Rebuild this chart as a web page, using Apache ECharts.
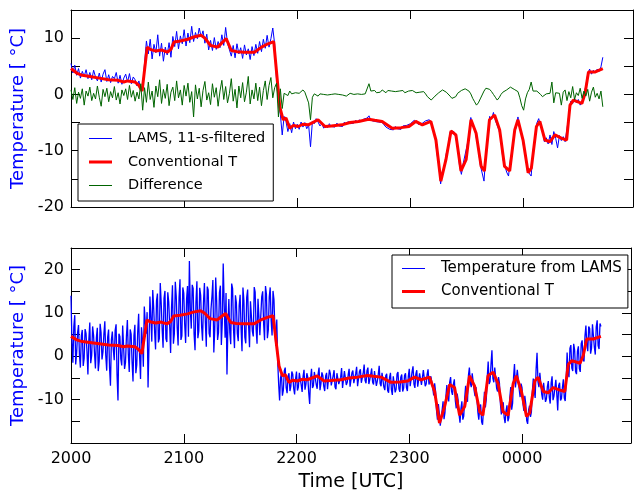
<!DOCTYPE html>
<html>
<head>
<meta charset="utf-8">
<script src="https://cdn.jsdelivr.net/npm/echarts@6/dist/echarts.min.js"></script>
<style>
  html, body { margin: 0; padding: 0; background: #fff; }
  #chart { width: 634px; height: 493px; }
</style>
</head>
<body>
<div id="chart"></div>
<script>
// x values are minutes after 2000 UTC; LAMS series are sampled once a minute
const sampleStep = 1
const hourTicks = ['2000', '2100', '2200', '2300', '0000']
const yTicksTop = [-20, -10, 0, 10]
const yTicksBottom = [-10, 0, 10, 20]

// conventional temperature (smooth, red)
const convTime = [0, 3, 6, 10, 15, 20, 25, 28, 30, 34, 36, 37.7, 40.4, 42, 45, 48, 51, 53, 54.6, 58,
  62, 65, 69, 71, 74, 77.8, 80.4, 82.3, 85, 88, 92, 97.3, 101, 104.5, 107.5, 110.7, 112.5, 114, 116, 118,
  120.4, 123, 125.8, 131, 134.7, 138, 143.6, 148, 152.5, 157.8, 161, 165, 170.3, 175, 179.2, 182.8, 186.3, 190.8, 193.5, 196.1,
  198.8, 201.5, 204.1, 206.8, 209.5, 212.1, 214.8, 217.5, 219.2, 221.9, 224.6, 227.3, 229.9, 232.6, 235.3, 237, 239.7, 242.4, 244.1, 246.8,
  248.6, 251.3, 254, 256.6, 260.2, 262.8, 264.6, 266.4, 270.9, 272.6, 274.4, 278, 282]
const convTemp = [4.6, 3.8, 3.4, 3.2, 2.9, 2.6, 2.5, 2.2, 2.4, 2.2, 1.6, 0.6, 8.4, 8.0, 7.7, 7.9, 7.5, 8.0, 9.3, 9.5,
  9.8, 10.2, 10.5, 10.0, 8.7, 8.4, 9.3, 9.9, 7.8, 7.6, 7.5, 7.5, 8.4, 9.0, 9.4, -2.2, -4.5, -4.2, -6.0, -5.5,
  -5.7, -5.3, -5.4, -4.5, -5.7, -5.6, -5.4, -5.0, -4.8, -4.4, -4.6, -4.8, -6.0, -5.9, -5.7, -4.8, -5.4, -4.8, -8.1, -15.4,
  -11.6, -6.5, -7.2, -13.6, -11.6, -4.5, -6.9, -12.8, -13.6, -4.5, -3.65, -6.3, -12.8, -13.6, -6.3, -4.5, -8.1, -13.9, -13.1, -5.7,
  -4.8, -8.1, -8.4, -7.2, -7.8, -8.1, -1.9, -1.0, -1.6, 0.2, 4.0, 4.0, 4.6]

// LAMS, 11-s-filtered (top panel, blue)
const lamsFiltered = [
  5.5, 3.8, 5.2, 3.4, 4.6, 2.9, 4.1, 3.2, 4.4, 2.8,
  3.9, 2.6, 4.3, 3.1, 2.4, 3.8, 2.2, 3.6, 4.4, 2.3,
  3.5, 2.1, 3.2, 2.8, 3.9, 2.0, 3.4, 1.8, 2.9, 3.6,
  2.2, 3.7, 1.9, 3.1, 2.6, 1.5, 2.4, 0.8, 1.2, 5.6,
  9.5, 7.2, 9.8, 6.3, 8.9, 7.4, 10.6, 6.8, 9.1, 5.9,
  8.4, 7.0, 9.2, 6.6, 10.3, 8.5, 11.2, 8.1, 10.4, 9.0,
  11.5, 8.6, 10.9, 9.2, 12.1, 9.4, 11.0, 9.9, 11.8, 10.2,
  11.3, 9.1, 10.7, 7.9, 9.6, 7.8, 10.1, 8.0, 9.4, 8.3,
  10.6, 8.7, 11.9, 9.1, 8.9, 6.8, 8.7, 6.5, 9.0, 7.2,
  8.3, 6.4, 8.8, 7.0, 8.1, 6.2, 8.5, 6.9, 8.9, 7.3,
  9.4, 7.6, 9.8, 8.2, 10.5, 8.4, 9.9, 11.8, 8.9, 2.5,
  -1.5, -3.5, -7.2, -3.9, -4.8, -6.6, -5.2, -6.8, -4.9, -6.1,
  -5.3, -6.2, -4.9, -5.8, -5.0, -6.1, -5.4, -9.3, -4.8, -5.2,
  -4.3, -4.9, -5.6, -5.2, -6.0, -5.5, -5.9, -5.2, -5.7, -5.4,
  -5.8, -5.1, -5.6, -5.3, -5.7, -4.9, -5.3, -4.8, -5.2, -4.9,
  -5.1, -4.6, -5.0, -4.5, -4.9, -4.4, -4.7, -4.2, -3.8, -4.6,
  -4.4, -4.8, -4.5, -4.9, -4.6, -5.0, -5.4, -5.8, -5.6, -6.2,
  -5.9, -6.3, -5.7, -6.1, -5.8, -6.2, -5.6, -5.9, -5.5, -5.8,
  -5.2, -4.9, -4.6, -4.8, -5.3, -5.6, -5.2, -5.0, -4.7, -4.9,
  -4.5, -5.1, -6.3, -7.2, -10.4, -12.5, -15.9, -13.6, -13.0, -10.5,
  -9.3, -6.7, -6.9, -6.6, -7.6, -9.2, -12.6, -14.2, -12.2, -12.4,
  -9.1, -7.3, -4.1, -5.5, -6.0, -7.9, -9.6, -12.5, -12.8, -15.4,
  -10.4, -7.9, -3.9, -4.4, -3.2, -4.6, -4.8, -6.4, -8.1, -11.5,
  -12.6, -13.8, -14.5, -11.6, -9.9, -6.8, -5.9, -4.0, -6.2, -7.0,
  -9.3, -10.6, -13.6, -13.3, -14.5, -10.0, -7.9, -5.1, -4.3, -5.6,
  -6.3, -8.4, -7.7, -8.8, -7.2, -8.9, -6.6, -7.8, -9.5, -7.3,
  -8.2, -7.5, -8.4, -6.1, -3.6, -1.2, -1.6, -0.7, -1.5, -0.9,
  -1.9, -1.1, -0.8, 1.5, 3.6, 4.5, 3.6, 4.3, 3.8, 4.5,
  4.1, 4.9, 6.6]

// difference LAMS - conventional (top panel, green)
const tempDiff = [
  0.8, -0.9, 1.2, -1.6, 0.4, -0.7, 1.0, -1.9, 0.6, -0.3,
  1.3, -1.1, 0.2, -0.8, 1.5, -0.5, -2.1, 0.9, -0.4, 1.1,
  -1.3, 0.5, -0.6, 1.4, -1.0, 0.3, -1.7, 0.8, -0.2, 1.0,
  -0.9, 1.6, -0.5, 0.7, -1.2, 0.4, -0.8, 1.9, -2.8, 1.2,
  -1.4, 2.2, -0.9, 0.6, -2.3, 1.5, -0.4, 2.6, -1.6, 0.9,
  -0.7, 1.8, -2.0, 0.4, 1.3, -1.1, 2.4, -0.6, 0.8, -1.9,
  1.6, -0.3, 2.0, -1.4, 0.5, -4.0, 1.7, -0.8, 1.1, -2.2,
  0.7, 2.3, -1.0, 0.3, -1.8, 1.9, -0.5, 1.2, -2.1, 0.6,
  2.5, -0.9, 1.4, -1.5, 0.2, 2.8, -1.2, 0.9, -2.4, 1.5,
  -0.6, 2.1, -1.3, 0.4, 3.2, -1.7, 0.8, -0.8, 2.0, -1.1,
  1.3, -2.0, 0.7, 2.4, -0.9, 1.6, 3.0, -0.6, 1.2, 2.0,
  -4.0, 1.0, -2.5, 0.2, 0.5, -0.2, 0.6, 0.1, 0.4, 0.3,
  0.6, 0.2, 0.5, 0.8, 0.4, 0.3, -1.5, -4.5, -0.5, 0.1,
  0.0, -0.3, 0.1, -0.2, 0.0, -0.3, -0.1, -0.4, 0.0, -0.2,
  0.1, -0.2, 0.0, 0.2, -0.1, 0.1, -0.3, 0.0, 0.2, -0.1,
  0.0, -0.2, 0.1, -0.1, 0.0, -0.3, 0.1, 0.3, 1.9, 0.6,
  0.4, 0.7, 0.3, 0.6, 0.4, 0.8, 0.5, 0.3, 0.7, 0.4,
  0.6, 0.3, 0.5, 0.2, 0.6, 0.4, 0.7, 0.3, 0.5, 0.6,
  0.4, 0.7, 0.5, 0.3, 0.6, 0.4, 0.2, 0.5, 0.1, -0.4,
  -0.6, -1.0, -0.7, -0.3, -0.1, 0.3, 0.6, 0.8, 0.7, 0.4,
  0.1, -0.3, -0.7, -1.0, -0.4, 0.2, 0.5, 0.7, 0.9, 1.0,
  1.0, 0.6, 0.1, -0.7, -1.3, -1.9, -1.5, -0.8, -0.1, 0.6,
  1.1, 1.3, 0.9, 0.5, 0.0, -0.5, -1.0, -0.6, 0.0, 0.4,
  0.5, 0.8, 1.1, 1.3, 1.3, 0.9, 0.6, 0.5, -0.6, -2.0,
  -2.8, -0.8, 0.3, 0.9, 2.2, 0.6, 0.4, 0.6, 0.3, 0.0,
  -0.4, -0.2, 0.1, 0.4, 0.2, 2.2, -1.5, 0.3, 0.5, 0.2,
  -1.9, 0.4, 0.8, -1.1, 0.5, -0.6, 1.4, -0.9, 0.3, -0.2,
  1.1, -0.7, 0.6, -0.3, 0.9, -1.2, 0.4, 1.3, -0.5, 0.2,
  -0.8, 0.6, -2.2]

// temperature from LAMS, unfiltered (bottom panel, blue), on the whole minutes
const lamsRaw = [
  14.0, -1.5, 9.5, 0.8, 7.2, -2.6, 6.1, -0.4, 5.3, -4.2,
  7.8, 0.2, 4.9, -2.8, 6.6, -1.1, 5.4, 1.0, 8.1, -3.3,
  6.2, -6.8, 5.7, -0.9, 7.4, -10.2, 4.6, -2.1, 6.9, -1.4,
  8.4, -3.6, 5.1, -5.8, 7.3, -2.0, 9.8, -5.2, 3.9, 11.5,
  5.2, -7.2, 13.8, 3.4, 11.2, 1.6, 14.5, 4.1, 12.3, 2.0,
  15.1, 3.3, 12.6, 0.8, 16.4, 5.2, 13.9, 2.5, 17.8, 4.7,
  14.6, 3.1, 16.2, 22.0, 6.4, 15.7, 1.4, 17.3, 5.8, 14.1,
  3.6, 16.9, 2.2, 15.3, 4.4, 13.8, 0.9, 18.2, 3.8, 14.7,
  2.6, 21.4, 4.3, -4.2, 13.2, 2.8, 15.6, 1.9, 12.4, 3.5,
  14.2, 1.2, 12.9, 3.0, 15.4, 2.1, 13.1, 4.6, 14.8, 2.9,
  13.6, 5.2, 15.0, 3.7, 14.3, 6.1, 15.9, 4.8, 13.1, 2.4,
  -1.2, -10.2, -4.0, -7.8, -2.6, -8.5, -3.9, -6.9, -4.1, -8.8,
  -3.5, -7.1, -4.2, -8.2, -3.1, -6.5, -4.8, -11.0, -2.9, -6.8,
  -3.4, -7.5, -2.6, -6.3, -4.4, -8.0, -3.8, -7.2, -4.0, -6.9,
  -3.2, -7.6, -4.1, -6.2, -2.7, -7.4, -3.6, -6.0, -2.9, -6.8,
  -3.3, -5.9, -2.4, -6.7, -3.0, -5.8, -1.9, -6.2, -2.6, -5.4,
  -2.8, -6.5, -3.1, -5.7, -2.2, -6.9, -3.6, -7.8, -4.0, -8.4,
  -3.8, -8.9, -4.5, -7.6, -3.6, -8.2, -4.2, -7.4, -3.9, -8.0,
  -2.9, -6.7, -2.3, -7.3, -3.2, -6.6, -3.5, -7.0, -2.8, -6.4,
  -3.0, -6.8, -4.4, -9.0, -8.1, -14.6, -13.2, -16.1, -10.4, -13.0,
  -6.6, -10.4, -4.8, -8.9, -5.3, -12.0, -10.1, -15.3, -10.4, -13.8,
  -6.8, -10.5, -2.6, -7.1, -4.3, -9.2, -9.7, -14.6, -11.1, -15.8,
  -8.2, -9.9, -1.2, -5.8, 1.4, -6.0, -2.9, -8.1, -6.2, -13.4,
  -10.6, -15.4, -11.3, -14.2, -7.1, -10.8, -1.8, -6.9, -3.4, -9.4,
  -7.2, -12.6, -11.0, -15.6, -11.4, -12.8, -5.1, -9.6, 0.8, -7.1,
  -4.2, -10.0, -6.3, -9.8, -5.7, -10.9, -4.6, -9.2, -5.4, -12.5,
  -6.1, -9.7, -5.3, -10.3, 0.9, -4.8, 2.6, -3.4, 1.5, -4.1,
  2.3, -3.6, 3.7, -1.2, 7.1, 1.2, 6.4, 1.9, 7.8, 0.4,
  8.3, 1.7, 6.9]

// temperature from LAMS, unfiltered, on the half minutes in between
const lamsRawMid = [
  3.2, 6.8, -1.9, 5.4, 0.3, 4.7, -2.2, 6.3, 1.1, 3.9,
  -1.6, 6.9, 0.8, 4.2, -3.4, 7.5, -0.7, 5.1, 0.2, 4.4,
  -2.5, 3.8, 1.6, 6.0, -4.3, 5.2, -0.6, 7.1, -2.9, 4.6,
  0.5, 6.2, -1.3, 4.8, -3.9, 5.6, 0.1, 6.7, -2.4, 7.9,
  10.2, 2.6, 8.9, 15.3, 5.7, 12.8, 3.2, 16.9, 6.3, 13.4,
  4.1, 14.8, 7.2, 11.3, 2.9, 17.2, 6.6, 13.5, 3.8, 15.9,
  7.4, 13.2, 4.5, 10.8, 16.5, 5.1, 12.6, 4.2, 15.8, 6.9,
  12.4, 7.8, 16.1, 5.3, 10.9, 17.6, 6.2, 12.9, 5.5, 16.3,
  7.7, 12.3, 14.6, 6.9, 5.5, 16.8, 6.1, 14.1, 5.3, 11.8,
  6.5, 15.9, 4.4, 13.6, 7.1, 12.7, 5.8, 16.0, 6.4, 13.3,
  4.9, 13.8, 7.6, 16.2, 4.2, 13.7, 8.3, 15.1, 6.2, 8.5,
  -6.4, -4.9, -9.1, -3.3, -7.2, -4.6, -8.0, -3.5, -7.4, -5.2,
  -7.9, -3.8, -6.6, -4.6, -7.7, -3.9, -8.4, -5.0, -7.3, -3.6,
  -6.5, -4.1, -7.8, -3.7, -6.9, -4.6, -7.6, -3.1, -6.7, -4.5,
  -7.1, -3.9, -6.4, -4.8, -7.3, -3.4, -6.6, -4.3, -7.0, -3.8,
  -6.2, -4.0, -6.9, -3.5, -6.1, -3.9, -5.6, -3.3, -6.4, -4.1,
  -6.0, -3.4, -6.8, -4.2, -6.3, -3.8, -7.1, -4.5, -7.9, -4.9,
  -7.7, -4.6, -8.3, -4.1, -7.5, -4.8, -8.1, -4.4, -7.2, -4.7,
  -6.9, -3.6, -6.4, -4.1, -7.0, -3.9, -6.6, -3.2, -6.9, -4.2,
  -6.5, -4.6, -7.3, -6.2, -12.4, -11.0, -16.0, -12.4, -14.5, -9.2,
  -9.5, -6.0, -8.1, -6.4, -10.2, -8.6, -13.4, -12.1, -14.6, -9.6,
  -9.8, -4.4, -6.2, -3.9, -7.8, -7.1, -12.8, -12.0, -15.1, -12.3,
  -11.8, -4.9, -6.4, -1.9, -5.1, -2.6, -7.4, -4.8, -10.9, -11.2,
  -14.1, -12.6, -15.0, -9.6, -12.3, -4.9, -7.2, -3.1, -7.6, -6.3,
  -10.9, -9.1, -14.8, -12.4, -14.0, -8.2, -7.8, -3.0, -5.9, -3.8,
  -8.8, -6.1, -10.5, -7.0, -9.4, -6.2, -10.1, -7.3, -8.6, -6.7,
  -10.2, -7.2, -9.6, -5.7, -3.4, 1.8, -2.7, 2.9, -3.5, 1.2,
  -2.8, 2.9, -0.6, 4.6, 2.8, 6.9, 0.6, 7.4, 2.1, 6.8,
  2.5, 7.6]

const font = 'DejaVu Sans'
const ink = '#000'

// legend swatches: a flat bar in the middle of a 23x14 box (tiny corner specks fix the box)
const thinLine = 'path://M0,0L0.01,0L0,0.01Z M0,6.5L23,6.5L23,7.5L0,7.5Z M23,14L22.99,14L23,13.99Z'
const thickLine = 'path://M0,0L0.01,0L0,0.01Z M0,5.5L23,5.5L23,8.5L0,8.5Z M23,14L22.99,14L23,13.99Z'

const toPairs = (vals) => vals.map((v, i) => [i * sampleStep, v])
const convPairs = convTime.map((t, i) => [t, convTemp[i]])
const rawPairs = []
lamsRaw.forEach((v, i) => {
  rawPairs.push([i * sampleStep, v])
  if (i < lamsRawMid.length) rawPairs.push([(i + 0.5) * sampleStep, lamsRawMid[i]])
})

function timeAxis (gridIndex, position, showLabels, name) {
  return {
    type: 'value',
    gridIndex,
    position,
    min: 0,
    max: 298,
    interval: 60,
    axisLine: { show: true, onZero: false, lineStyle: { color: ink, width: 1 } },
    axisTick: { show: true, inside: true, length: 9, lineStyle: { color: ink } },
    axisLabel: {
      show: showLabels,
      margin: 8,
      fontSize: 16,
      fontFamily: font,
      color: ink,
      formatter: v => hourTicks[Math.round(v / 60)] || ''
    },
    splitLine: { show: false },
    name: name || '',
    nameLocation: 'middle',
    nameGap: 30,
    nameTextStyle: { fontSize: 19, fontFamily: font, color: ink }
  }
}

function tempAxis (gridIndex, position, min, max, labelTicks, showName) {
  return {
    type: 'value',
    gridIndex,
    position,
    min,
    max,
    interval: 5,
    axisLine: { show: true, onZero: false, lineStyle: { color: ink, width: 1 } },
    axisTick: { show: true, inside: true, length: 9, lineStyle: { color: ink } },
    axisLabel: {
      show: showName,
      margin: 7,
      fontSize: 16,
      fontFamily: font,
      color: ink,
      formatter: v => labelTicks.includes(v) ? String(v) : ''
    },
    splitLine: { show: false },
    name: showName ? 'Temperature [ °C]' : '',
    nameLocation: 'middle',
    nameGap: 34,
    nameTextStyle: { fontSize: 18, fontFamily: font, color: '#0000ff' }
  }
}

function lineSeries (name, xi, yi, data, color, width, z) {
  return {
    name,
    type: 'line',
    xAxisIndex: xi,
    yAxisIndex: yi,
    data,
    symbol: 'none',
    showSymbol: false,
    lineStyle: { color, width },
    itemStyle: { color },
    emphasis: { disabled: true },
    z
  }
}

const legendBase = {
  orient: 'vertical',
  itemWidth: 23,
  itemHeight: 14,
  backgroundColor: '#fff',
  borderColor: ink,
  borderWidth: 1,
  borderRadius: 0,
  selectedMode: false
}

const chart = echarts.init(document.getElementById('chart'), null, { renderer: 'canvas' })
chart.setOption({
  animation: false,
  backgroundColor: '#fff',
  grid: [
    { left: 71, top: 10, width: 562, height: 197 },
    { left: 71, top: 248, width: 562, height: 198 }
  ],
  xAxis: [
    timeAxis(0, 'bottom', false),
    timeAxis(0, 'top', false),
    timeAxis(1, 'bottom', true, 'Time [UTC]'),
    timeAxis(1, 'top', false)
  ],
  yAxis: [
    tempAxis(0, 'left', -20, 15, yTicksTop, true),
    tempAxis(0, 'right', -20, 15, yTicksTop, false),
    tempAxis(1, 'left', -20, 25, yTicksBottom, true),
    tempAxis(1, 'right', -20, 25, yTicksBottom, false)
  ],
  legend: [
    Object.assign({}, legendBase, {
      data: [
        { name: 'LAMS, 11-s-filtered', icon: thinLine },
        { name: 'Conventional T', icon: thickLine },
        { name: 'Difference', icon: thinLine }
      ],
      left: 78,
      top: 124,
      padding: [7, 8, 8, 11],
      itemGap: 8.5,
      textStyle: { fontFamily: font, fontSize: 14.5, color: ink, padding: [0, 0, 0, 11] }
    }),
    Object.assign({}, legendBase, {
      data: [
        { name: 'Temperature from LAMS', icon: thinLine },
        { name: 'Conventional T', icon: thickLine }
      ],
      left: 392,
      top: 255,
      padding: [6, 6, 9, 10],
      itemGap: 8,
      textStyle: { fontFamily: font, fontSize: 15, color: ink, padding: [0, 0, 0, 11] }
    })
  ],
  series: [
    lineSeries('LAMS, 11-s-filtered', 0, 0, toPairs(lamsFiltered), '#0000ff', 1, 2),
    lineSeries('Conventional T', 0, 0, convPairs, '#ff0000', 3, 3),
    lineSeries('Difference', 0, 0, toPairs(tempDiff), '#006400', 1, 4),
    lineSeries('Temperature from LAMS', 2, 2, rawPairs, '#0000ff', 1.3, 2),
    lineSeries('Conventional T', 2, 2, convPairs, '#ff0000', 3, 3)
  ]
})
</script>
</body>
</html>
